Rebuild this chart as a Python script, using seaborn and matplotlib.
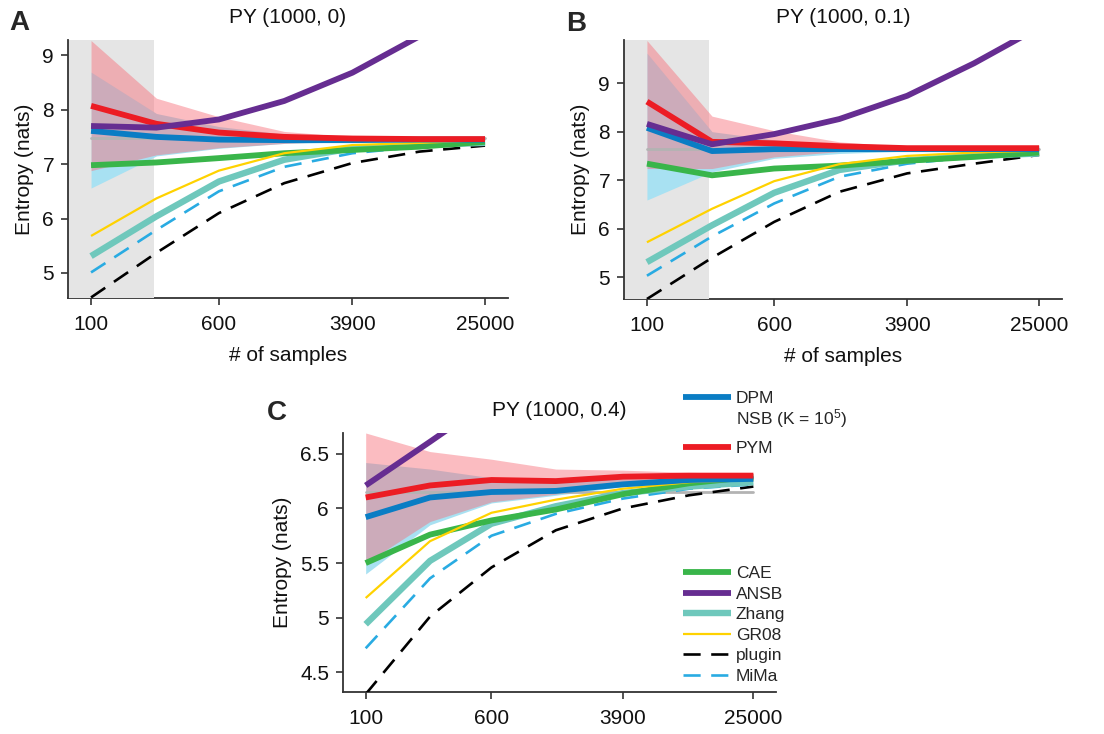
import matplotlib
matplotlib.use("Agg")
import matplotlib.pyplot as plt
import seaborn as sns
from matplotlib.lines import Line2D
from matplotlib.ticker import FixedLocator, FixedFormatter, NullLocator

# ---------------- data ----------------
samples = [100, 250, 600, 1500, 3900, 10000, 25000]
xtick_values = [100, 600, 3900, 25000]
xtick_labels = ["100", "600", "3900", "25000"]

# Panel A : PY (1000, 0)
A_true = 7.48
A_dpm = [7.61, 7.50, 7.45, 7.44, 7.44, 7.45, 7.45]
A_pym = [8.07, 7.74, 7.58, 7.50, 7.47, 7.46, 7.46]
A_cae = [6.98, 7.03, 7.11, 7.20, 7.26, 7.32, 7.41]
A_ansb = [7.70, 7.67, 7.82, 8.16, 8.68, 9.35, 10.3]
A_zhang = [5.31, 6.04, 6.68, 7.08, 7.29, 7.35, 7.39]
A_gr08 = [5.68, 6.37, 6.88, 7.20, 7.35, 7.39, 7.44]
A_plugin = [4.55, 5.37, 6.10, 6.65, 7.02, 7.23, 7.34]
A_mima = [5.01, 5.79, 6.50, 6.95, 7.20, 7.32, 7.41]
A_pym_hi = [9.27, 8.21, 7.87, 7.60, 7.50, 7.50, 7.50]
A_pym_lo = [6.88, 7.17, 7.30, 7.38, 7.43, 7.45, 7.45]
A_dpm_hi = [8.69, 7.93, 7.69, 7.55, 7.48, 7.47, 7.47]
A_dpm_lo = [6.56, 7.15, 7.29, 7.38, 7.41, 7.43, 7.44]

# Panel B : PY (1000, 0.1)
B_true = 7.64
B_dpm = [8.08, 7.60, 7.64, 7.64, 7.64, 7.64, 7.64]
B_pym = [8.62, 7.79, 7.76, 7.70, 7.66, 7.66, 7.66]
B_cae = [7.34, 7.10, 7.24, 7.30, 7.40, 7.48, 7.57]
B_ansb = [8.16, 7.74, 7.95, 8.26, 8.74, 9.41, 10.15]
B_zhang = [5.31, 6.07, 6.74, 7.21, 7.41, 7.50, 7.55]
B_gr08 = [5.72, 6.41, 6.98, 7.33, 7.50, 7.57, 7.61]
B_plugin = [4.55, 5.40, 6.14, 6.76, 7.14, 7.34, 7.52]
B_mima = [5.03, 5.84, 6.52, 7.07, 7.34, 7.48, 7.57]
B_pym_hi = [9.88, 8.32, 8.02, 7.79, 7.69, 7.68, 7.68]
B_pym_lo = [7.24, 7.24, 7.48, 7.59, 7.62, 7.63, 7.64]
B_dpm_hi = [9.62, 8.00, 7.83, 7.72, 7.66, 7.65, 7.65]
B_dpm_lo = [6.59, 7.17, 7.45, 7.55, 7.60, 7.62, 7.63]

# Panel C : PY (1000, 0.4)
C_true = 6.15
C_dpm = [5.92, 6.10, 6.15, 6.16, 6.22, 6.26, 6.27]
C_pym = [6.10, 6.21, 6.26, 6.25, 6.29, 6.30, 6.30]
C_cae = [5.50, 5.76, 5.89, 5.99, 6.13, 6.23, 6.29]
C_ansb = [6.21, 6.61, 7.00, 7.40, 7.80, 8.20, 8.60]
C_zhang = [4.94, 5.52, 5.86, 6.02, 6.14, 6.20, 6.24]
C_gr08 = [5.18, 5.70, 5.96, 6.08, 6.18, 6.24, 6.26]
C_plugin = [4.30, 5.01, 5.46, 5.80, 6.00, 6.12, 6.20]
C_mima = [4.72, 5.36, 5.75, 5.95, 6.09, 6.18, 6.22]
C_pym_hi = [6.69, 6.52, 6.45, 6.36, 6.35, 6.33, 6.32]
C_pym_lo = [5.50, 5.88, 6.06, 6.13, 6.22, 6.26, 6.28]
C_dpm_hi = [6.42, 6.36, 6.28, 6.25, 6.27, 6.28, 6.29]
C_dpm_lo = [5.40, 5.85, 6.05, 6.12, 6.20, 6.24, 6.26]

A_yticks = [5, 6, 7, 8, 9]
A_ytick_labels = ["5", "6", "7", "8", "9"]
C_yticks = [4.5, 5, 5.5, 6, 6.5]
C_ytick_labels = ["4.5", "5", "5.5", "6", "6.5"]

# ---------------- style ----------------
sns.set_theme(style="ticks")
plt.rcParams["font.family"] = ["Liberation Sans", "DejaVu Sans"]
plt.rcParams["mathtext.fontset"] = "custom"
plt.rcParams["mathtext.rm"] = "Liberation Sans"
plt.rcParams["mathtext.it"] = "Liberation Sans"

COL = {
    "DPM": "#0a7dc4", "PYM": "#ec1c24", "CAE": "#39b54a", "ANSB": "#662d91",
    "Zhang": "#6fc8bc", "GR08": "#ffd200", "plugin": "#000000", "MiMa": "#29abe2",
}
LW = {"DPM": 4.2, "PYM": 4.2, "CAE": 4.2, "ANSB": 4.2, "Zhang": 4.6,
      "GR08": 1.6, "plugin": 1.9, "MiMa": 1.9}
LS = {"plugin": (0, (6.5, 4)), "MiMa": (0, (6.5, 4))}
SPINE = "#333333"
FS = 15
DPM_BAND = "#a8e1f2"
PYM_BAND = "#f86d78"

fig = plt.figure(figsize=(11.04, 7.34), dpi=100)
axA = fig.add_axes([68 / 1104, 1 - 298 / 734, 440 / 1104, 258 / 734])
axB = fig.add_axes([624 / 1104, 1 - 299 / 734, 438 / 1104, 259 / 734])
axC = fig.add_axes([343 / 1104, 1 - 692 / 734, 433 / 1104, 259 / 734])


def draw_panel(ax, title, ylim, yticks, yticklabels, true_val, series,
               pym_band, dpm_band, shade, xlabel):
    if shade:
        ax.axvspan(60, 240, color="#e5e5e5", lw=0, zorder=2.6)
    ax.fill_between(samples, dpm_band[0], dpm_band[1], color=DPM_BAND,
                    alpha=1.0, lw=0, zorder=2.7)
    ax.fill_between(samples, pym_band[0], pym_band[1], color=PYM_BAND,
                    alpha=0.46, lw=0, zorder=2.8)
    sns.lineplot(x=[samples[0], samples[-1]], y=[true_val, true_val], ax=ax,
                 color="#b3b3b3", lw=2.0, zorder=2.9)
    order = ["plugin", "MiMa", "Zhang", "CAE", "GR08", "DPM", "PYM", "ANSB"]
    for name in order:
        kw = {}
        if name in LS:
            kw["linestyle"] = LS[name]
        sns.lineplot(x=samples, y=series[name], ax=ax, color=COL[name],
                     lw=LW[name], zorder=3 + order.index(name) * 0.1,
                     solid_capstyle="butt", **kw)
    ax.set_xscale("log")
    ax.set_xlim(72.4, 34500)
    ax.xaxis.set_major_locator(FixedLocator(xtick_values))
    ax.xaxis.set_major_formatter(FixedFormatter(xtick_labels))
    ax.xaxis.set_minor_locator(NullLocator())
    ax.set_ylim(*ylim)
    ax.yaxis.set_major_locator(FixedLocator(yticks))
    ax.yaxis.set_major_formatter(FixedFormatter(yticklabels))
    ax.yaxis.set_minor_locator(NullLocator())
    sns.despine(ax=ax)
    for s in ("left", "bottom"):
        ax.spines[s].set_color(SPINE)
        ax.spines[s].set_linewidth(1.3)
    ax.spines["left"].set_zorder(3.5)
    ax.tick_params(axis="both", direction="out", length=5, width=1.2,
                   color=SPINE, labelsize=FS, pad=5, labelcolor="#111111")
    ax.tick_params(axis="x", pad=7)
    ax.set_title(title, fontsize=FS, pad=12, color="#111111")
    ax.set_ylabel("Entropy (nats)", fontsize=FS, color="#111111", labelpad=6)
    ax.set_xlabel(xlabel, fontsize=FS, color="#111111", labelpad=9)
    ax.set_facecolor("white")


draw_panel(axA, "PY (1000, 0)", (4.54, 9.28), A_yticks, A_ytick_labels, A_true,
           {"DPM": A_dpm, "PYM": A_pym, "CAE": A_cae, "ANSB": A_ansb,
            "Zhang": A_zhang, "GR08": A_gr08, "plugin": A_plugin, "MiMa": A_mima},
           (A_pym_lo, A_pym_hi), (A_dpm_lo, A_dpm_hi), True, "# of samples")
draw_panel(axB, "PY (1000, 0.1)", (4.55, 9.89), A_yticks, A_ytick_labels, B_true,
           {"DPM": B_dpm, "PYM": B_pym, "CAE": B_cae, "ANSB": B_ansb,
            "Zhang": B_zhang, "GR08": B_gr08, "plugin": B_plugin, "MiMa": B_mima},
           (B_pym_lo, B_pym_hi), (B_dpm_lo, B_dpm_hi), True, "# of samples")
draw_panel(axC, "PY (1000, 0.4)", (4.32, 6.69), C_yticks, C_ytick_labels, C_true,
           {"DPM": C_dpm, "PYM": C_pym, "CAE": C_cae, "ANSB": C_ansb,
            "Zhang": C_zhang, "GR08": C_gr08, "plugin": C_plugin, "MiMa": C_mima},
           (C_pym_lo, C_pym_hi), (C_dpm_lo, C_dpm_hi), False, "")

# panel letters
fig.text(9 / 1104, 1 - 30 / 734, "A", fontsize=20, fontweight="bold", va="baseline")
fig.text(566 / 1104, 1 - 31 / 734, "B", fontsize=20, fontweight="bold", va="baseline")
fig.text(267 / 1104, 1 - 420 / 734, "C", fontsize=20, fontweight="bold", va="baseline")

# legends
def handle(name):
    return Line2D([], [], color=COL[name], lw=LW[name],
                  linestyle=LS.get(name, "-"), solid_capstyle="butt")

leg_kw = dict(frameon=False, loc="upper left", borderpad=0, borderaxespad=0,
              handlelength=2.75, handletextpad=0.3, fontsize=12.5)
fig.legend([handle("DPM"), Line2D([], [], color="none")],
           ["DPM", r"NSB (K = 10$^5$)"], labelspacing=0.06,
           bbox_to_anchor=(683 / 1104, 1 - 391 / 734), **leg_kw)
fig.legend([handle("PYM")], ["PYM"], labelspacing=0.31,
           bbox_to_anchor=(683 / 1104, 1 - 441 / 734), **leg_kw)
names3 = ["CAE", "ANSB", "Zhang", "GR08", "plugin", "MiMa"]
fig.legend([handle(n) for n in names3], names3, labelspacing=0.31,
           bbox_to_anchor=(683 / 1104, 1 - 566 / 734), **leg_kw)

fig.savefig("out.png", dpi=100)
